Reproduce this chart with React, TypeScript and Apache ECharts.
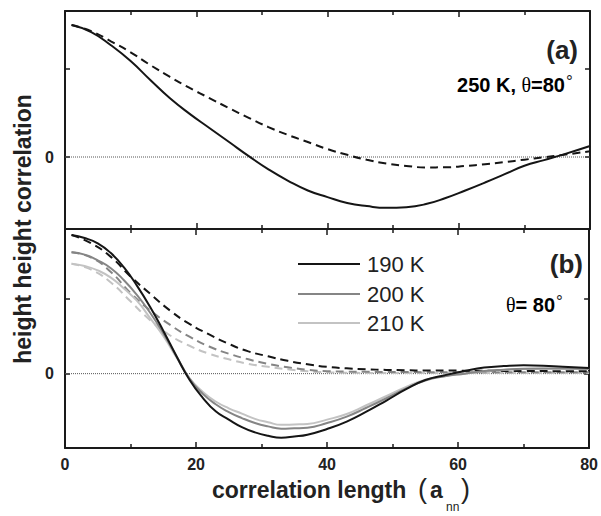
import React, { useEffect, useRef } from "react";
import * as echarts from "echarts";

// ---- Panel (a): 250 K, theta = 80 deg ----
const aX = [1, 4, 7, 10, 13, 16, 19, 22, 25, 28, 31, 34, 37, 40, 43, 46, 49, 52, 55, 58, 61, 64, 67, 70, 73, 76, 80];
const aSolid = [1.5, 1.42, 1.27, 1.09, 0.875, 0.667, 0.49, 0.33, 0.17, 0.01, -0.14, -0.27, -0.38, -0.456, -0.522, -0.558, -0.577, -0.57, -0.535, -0.465, -0.38, -0.29, -0.195, -0.1, -0.035, 0.03, 0.125];
const aDashed = [1.5, 1.43, 1.315, 1.19, 1.045, 0.91, 0.785, 0.67, 0.555, 0.445, 0.34, 0.25, 0.17, 0.09, 0.025, -0.032, -0.075, -0.102, -0.118, -0.117, -0.102, -0.082, -0.058, -0.03, -0.003, 0.025, 0.065];

// ---- Panel (b): theta = 80 deg, three temperatures ----
const bX = [1, 3, 5, 7, 9, 11, 13, 15, 17, 19, 21, 23, 25, 27, 29, 31, 33, 35, 37, 40, 43, 46, 49, 52, 55, 58, 61, 64, 67, 70, 73, 76, 80];
const b190Solid = [1.84, 1.8, 1.73, 1.6, 1.41, 1.165, 0.885, 0.57, 0.235, -0.08, -0.317, -0.5, -0.61, -0.71, -0.78, -0.825, -0.85, -0.835, -0.81, -0.735, -0.636, -0.505, -0.36, -0.21, -0.085, -0.02, 0.035, 0.08, 0.1, 0.11, 0.105, 0.09, 0.075];
const b200Solid = [1.61, 1.58, 1.505, 1.4, 1.24, 1.043, 0.808, 0.537, 0.234, -0.065, -0.265, -0.407, -0.51, -0.59, -0.655, -0.7, -0.73, -0.725, -0.718, -0.655, -0.57, -0.453, -0.33, -0.2, -0.09, -0.035, 0.0, 0.035, 0.053, 0.066, 0.069, 0.069, 0.065];
const b210Solid = [1.46, 1.43, 1.37, 1.275, 1.13, 0.965, 0.737, 0.5, 0.217, -0.058, -0.24, -0.37, -0.46, -0.53, -0.6, -0.645, -0.68, -0.675, -0.668, -0.61, -0.535, -0.42, -0.3, -0.18, -0.08, -0.03, 0.0, 0.03, 0.048, 0.06, 0.064, 0.064, 0.06];

const bDashX = [1, 4, 7, 10, 13, 16, 19, 22, 25, 28, 31, 34, 37, 40, 43, 46, 49, 52, 55, 60, 65, 70, 75, 80];
const b190Dashed = [1.84, 1.73, 1.55, 1.29, 1.06, 0.84, 0.66, 0.52, 0.395, 0.295, 0.23, 0.17, 0.125, 0.09, 0.07, 0.058, 0.05, 0.045, 0.042, 0.04, 0.037, 0.035, 0.033, 0.03];
const b200Dashed = [1.61, 1.54, 1.35, 1.07, 0.84, 0.65, 0.49, 0.36, 0.265, 0.19, 0.13, 0.085, 0.052, 0.033, 0.027, 0.024, 0.022, 0.021, 0.02, 0.02, 0.02, 0.02, 0.02, 0.02];
const b210Dashed = [1.46, 1.38, 1.21, 0.96, 0.71, 0.51, 0.37, 0.265, 0.19, 0.13, 0.09, 0.057, 0.032, 0.018, 0.012, 0.01, 0.01, 0.01, 0.01, 0.01, 0.01, 0.01, 0.01, 0.01];

const xTicks = [0, 20, 40, 60, 80];
const legendNames = ["190 K", "200 K", "210 K"];
const seriesColors = ["#151515", "#858585", "#c3c3c3"];

const zip = (xs: number[], ys: number[]) => xs.map((x, i) => [x, ys[i]]);

export default function App() {
  const ref = useRef<HTMLDivElement>(null);
  useEffect(() => {
    if (!ref.current) return;
    const chart = echarts.init(ref.current, null, { renderer: "svg" });
    const axisLine = { show: true, onZero: false, lineStyle: { color: "#1a1a1a", width: 2 } };
    const font = "Liberation Sans, Arial, sans-serif";
    const mkX = (grid: number, pos: "top" | "bottom", labels: boolean) => ({
      type: "value",
      gridIndex: grid,
      position: pos,
      min: xTicks[0],
      max: xTicks[xTicks.length - 1],
      interval: 20,
      axisLine,
      axisTick: { show: true, inside: true, length: 6, lineStyle: { color: "#1a1a1a", width: 1.5 } },
      minorTick: { show: true, splitNumber: 2, length: 4, lineStyle: { color: "#1a1a1a", width: 1.5 } },
      axisLabel: {
        show: labels,
        margin: 8,
        fontFamily: font,
        fontWeight: "bold",
        fontSize: 16,
        color: "#222",
      },
      splitLine: { show: false },
      minorSplitLine: { show: false },
    });
    const mkY = (grid: number, pos: "left" | "right", min: number, max: number, labels: boolean) => ({
      type: "value",
      gridIndex: grid,
      position: pos,
      min,
      max,
      axisLine,
      axisTick: { show: true, inside: true, length: 5, customValues: [0, 1], lineStyle: { color: "#1a1a1a", width: 1.5 } },
      axisLabel: {
        show: labels,
        customValues: [0],
        margin: 11,
        fontFamily: font,
        fontWeight: "bold",
        fontSize: 16,
        color: "#222",
        formatter: (v: number) => (Math.abs(v) < 1e-9 ? "0" : ""),
      },
      splitLine: { show: false },
    });
    const line = (name: string, data: number[][], xi: number, color: string, dashed: boolean, z: number) => ({
      name,
      type: "line",
      xAxisIndex: xi,
      yAxisIndex: xi,
      data,
      smooth: 0.5,
      symbol: "none",
      z,
      lineStyle: { color, width: 2, type: dashed ? [8, 5] : "solid" },
    });
    const zero = (xi: number) => ({
      type: "line",
      xAxisIndex: xi,
      yAxisIndex: xi,
      data: [
        [0, 0],
        [80, 0],
      ],
      symbol: "none",
      z: 1,
      lineStyle: { color: "#555", width: 1, type: [1, 1] },
    });
    const txt = (text: string, x: number, y: number, size: number, opts: any = {}) => ({
      type: "text",
      x,
      y,
      style: {
        text,
        fontFamily: font,
        fontSize: size,
        fontWeight: "bold",
        fill: "#222",
        align: "left",
        verticalAlign: "middle",
        ...opts,
      },
    });
    const legendEls: any[] = [];
    const legendY = [264, 294, 323];
    legendNames.forEach((n, i) => {
      legendEls.push({
        type: "line",
        shape: { x1: 298, y1: legendY[i], x2: 360, y2: legendY[i] },
        style: { stroke: seriesColors[i], lineWidth: 2 },
      });
      legendEls.push(txt(n, 367, legendY[i], 22, { fontWeight: "normal" }));
    });
    const richTheta = {
      b: { fontFamily: font, fontSize: 20, fontWeight: "bold", color: "#222" },
      t: { fontFamily: "Liberation Serif, serif", fontSize: 20, fontWeight: "normal", color: "#222" },
    };

    chart.setOption({
      animation: false,
      backgroundColor: "#fff",
      grid: [
        { left: 65, top: 11, width: 525, height: 218, containLabel: false },
        { left: 65, top: 229, width: 525, height: 219, containLabel: false },
      ],
      xAxis: [mkX(0, "bottom", false), mkX(1, "bottom", true), mkX(0, "top", false), mkX(1, "top", false)],
      yAxis: [
        mkY(0, "left", -0.818, 1.659, true),
        mkY(1, "left", -0.987, 1.92, true),
        mkY(0, "right", -0.818, 1.659, false),
        mkY(1, "right", -0.987, 1.92, false),
      ],
      series: [
        zero(0),
        zero(1),
        line("250 K dashed", zip(aX, aDashed), 0, seriesColors[0], true, 3),
        line("250 K", zip(aX, aSolid), 0, seriesColors[0], false, 4),
        line("210 K dashed", zip(bDashX, b210Dashed), 1, seriesColors[2], true, 3),
        line("200 K dashed", zip(bDashX, b200Dashed), 1, seriesColors[1], true, 3),
        line("190 K dashed", zip(bDashX, b190Dashed), 1, seriesColors[0], true, 3),
        line("210 K", zip(bX, b210Solid), 1, seriesColors[2], false, 4),
        line("200 K", zip(bX, b200Solid), 1, seriesColors[1], false, 4),
        line("190 K", zip(bX, b190Solid), 1, seriesColors[0], false, 5),
      ],
      graphic: [
        {
          type: "text",
          x: 23,
          y: 229,
          rotation: Math.PI / 2,
          style: {
            text: "height height correlation",
            fontFamily: font,
            fontSize: 23,
            fontWeight: "bold",
            fill: "#222",
            align: "center",
            verticalAlign: "middle",
          },
        },
        txt("correlation length", 212, 490, 23),
        txt("(", 418, 489, 27, { fontWeight: "normal" }),
        txt("a", 430, 490, 23),
        txt("nn", 446, 507, 12, { fontWeight: "normal" }),
        txt(")", 461, 489, 27, { fontWeight: "normal" }),
        txt("(a)", 578, 50, 26, { align: "right" }),
        {
          type: "text",
          x: 565,
          y: 85,
          style: { text: "{b|250 K, }{t|θ}{b|=80}", align: "right", verticalAlign: "middle", rich: richTheta },
        },
        txt("°", 566, 73, 17, { fontWeight: "normal", verticalAlign: "top" }),
        txt("(b)", 583, 264, 26, { align: "right" }),
        {
          type: "text",
          x: 555,
          y: 305,
          style: { text: "{t|θ}{b|= 80}", align: "right", verticalAlign: "middle", rich: richTheta },
        },
        txt("°", 556, 293, 17, { fontWeight: "normal", verticalAlign: "top" }),
        ...legendEls,
      ],
    });
    return () => chart.dispose();
  }, []);
  return <div ref={ref} style={{ width: 601, height: 516, position: "absolute", left: 0, top: 0 }} />;
}
